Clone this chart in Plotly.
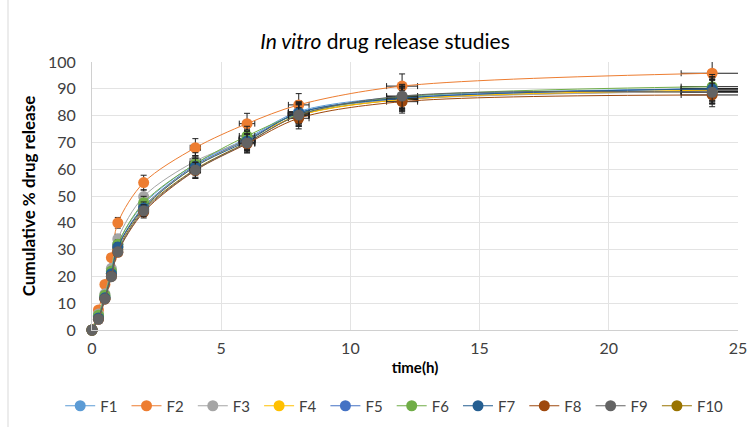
import plotly.graph_objects as go

time_h = [0, 0.25, 0.5, 0.75, 1, 2, 4, 6, 8, 12, 24]

F1 = [0, 5.0, 12.5, 22, 32, 47, 62, 71.5, 81.5, 87, 90]
F2 = [0, 7.5, 17, 27, 40, 55, 68, 77, 84, 91, 95.8]
F3 = [0, 6.0, 13.5, 23, 34, 49.8, 63, 71, 81, 86, 89]
F4 = [0, 5.0, 12, 21, 31, 46, 61, 71, 80, 86, 89.5]
F5 = [0, 5.0, 12, 21, 31, 46, 61.5, 71, 81, 86.5, 90]
F6 = [0, 5.5, 13, 22, 32, 47.5, 62, 72.4, 80.5, 87, 90.8]
F7 = [0, 4.5, 12, 21, 31, 45.5, 61, 70.5, 81, 86.5, 90]
F8 = [0, 4.0, 11.5, 20, 29, 44, 59.5, 69.5, 79, 85.2, 87.7]
F9 = [0, 4.0, 11.6, 19.9, 29.2, 44.5, 59.7, 69.8, 80.2, 87.3, 88.7]
F10 = [0, 4.5, 12, 21, 30, 45, 60, 70, 80, 86, 89]

series_names = ["F1", "F2", "F3", "F4", "F5", "F6", "F7", "F8", "F9", "F10"]
series_values = [F1, F2, F3, F4, F5, F6, F7, F8, F9, F10]
colors = ["#5B9BD5", "#ED7D31", "#A5A5A5", "#FFC000", "#4472C4",
          "#70AD47", "#255E91", "#9E480E", "#636363", "#997300"]
# drawing order (F9 drawn on top, as in the reference)
draw_order = [9, 0, 1, 2, 3, 4, 5, 6, 7, 8]

x_ticks = [0, 5, 10, 15, 20, 25]
y_ticks = list(range(0, 101, 10))

FONT = "Lato"

fig = go.Figure()
for i in draw_order:
    name, vals, col = series_names[i], series_values[i], colors[i]
    fig.add_trace(go.Scatter(
        x=time_h, y=vals, name=name, mode="lines+markers", legendrank=100 + i,
        cliponaxis=False,
        line=dict(color=col, width=1, shape="spline", smoothing=0.9),
        marker=dict(color=col, size=11),
        error_y=dict(type="percent", value=5, color="#202020", thickness=1, width=3),
        error_x=dict(type="percent", value=5, color="#202020", thickness=1, width=3),
    ))

fig.update_layout(
    width=750, height=427,
    margin=dict(l=92, r=12, t=62, b=97, autoexpand=False),
    paper_bgcolor="white", plot_bgcolor="white",
    font=dict(family=FONT, color="#595959", size=14),
    title=dict(text="<i>In vitro</i> drug release studies", x=385 / 750, xanchor="center",
               y=1 - 42 / 427, yanchor="middle",
               font=dict(family=FONT, size=21, color="#000000")),
    xaxis=dict(range=[0, 25], tickvals=x_ticks, showgrid=True, gridcolor="#E3E3E3",
               gridwidth=1, zeroline=False, showline=True, linecolor="#D0D0D0",
               ticks="outside", ticklen=4, tickcolor="rgba(0,0,0,0)",
               tickfont=dict(size=16, color="#404040"), automargin=False,
               title=dict(text="<b>time(h)</b>", font=dict(size=15, color="#000000"), standoff=6)),
    yaxis=dict(range=[0, 100], tickvals=y_ticks, showgrid=True, gridcolor="#E3E3E3",
               gridwidth=1, zeroline=False, showline=True, linecolor="#D0D0D0",
               ticks="outside", ticklen=12, tickcolor="rgba(0,0,0,0)",
               tickfont=dict(size=16, color="#404040"), automargin=False,
               title=dict(text="<b>Cumulative % drug release</b>",
                          font=dict(size=17, color="#000000"), standoff=8)),
    legend=dict(orientation="h", x=(76.7 - 16.5 - 92) / 646, xanchor="left",
                y=-(406 - 330) / 268, yanchor="middle",
                font=dict(size=15, color="#404040"),
                entrywidth=21.3, entrywidthmode="pixels", itemwidth=30,
                traceorder="normal"),
    showlegend=True,
)
fig.add_shape(type="line", xref="paper", yref="paper",
              x0=(8 - 92) / 646, x1=(8 - 92) / 646, y0=-97 / 268, y1=1 + 62 / 268,
              line=dict(color="#D9D9D9", width=1))

fig.write_html("out.html")
